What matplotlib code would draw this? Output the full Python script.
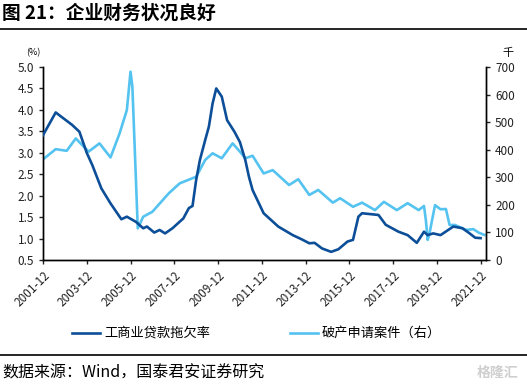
import numpy as np
import pandas as pd
import matplotlib
matplotlib.use("Agg")
import matplotlib.pyplot as plt
import matplotlib.dates as mdates
from matplotlib.lines import Line2D

plt.rcParams['font.family'] = ['Noto Sans CJK SC', 'DejaVu Sans']

# Commercial & industrial loan delinquency rate (%)
dark_dates = ["2001-12", "2002-07", "2003-04", "2003-08", "2003-12", "2004-03", "2004-08",
              "2005-01", "2005-07", "2005-10", "2006-03", "2006-07", "2006-09", "2007-01",
              "2007-04", "2007-07", "2007-11", "2008-05", "2008-08", "2008-10", "2008-12",
              "2009-02", "2009-05", "2009-07", "2009-09", "2009-11", "2010-02", "2010-05",
              "2010-09", "2010-12", "2011-03", "2011-05", "2011-07", "2012-01", "2012-09",
              "2013-05", "2013-10", "2014-02", "2014-05", "2014-09", "2015-02", "2015-06",
              "2015-11", "2016-02", "2016-05", "2016-07", "2017-04", "2017-08", "2018-03",
              "2018-08", "2019-01", "2019-05", "2019-07", "2019-10", "2020-02", "2020-09",
              "2021-02", "2021-06", "2021-09", "2021-12"]
dark_vals = [3.41, 3.94, 3.65, 3.49, 3.00, 2.72, 2.17,
             1.82, 1.45, 1.51, 1.39, 1.24, 1.28, 1.14,
             1.20, 1.12, 1.24, 1.47, 1.71, 1.76, 2.37,
             2.83, 3.30, 3.61, 4.15, 4.50, 4.31, 3.76,
             3.49, 3.25, 2.83, 2.44, 2.13, 1.59, 1.28,
             1.08, 0.98, 0.89, 0.90, 0.77, 0.69, 0.75,
             0.93, 0.97, 1.51, 1.59, 1.55, 1.32, 1.16,
             1.08, 0.90, 1.16, 1.08, 1.12, 1.08, 1.28,
             1.24, 1.12, 1.02, 1.01]

# Bankruptcy filings (thousand, right axis)
light_dates = ["2001-12", "2002-07", "2003-01", "2003-06", "2004-01", "2004-07", "2005-01",
               "2005-06", "2005-10", "2005-12", "2006-01", "2006-04", "2006-07", "2006-12",
               "2007-09", "2008-03", "2008-12", "2009-05", "2009-09", "2010-02", "2010-08",
               "2010-12", "2011-03", "2011-07", "2012-01", "2012-06", "2013-03", "2013-08",
               "2014-02", "2014-07", "2015-03", "2015-07", "2016-02", "2016-07", "2017-02",
               "2017-07", "2018-02", "2018-08", "2019-02", "2019-05", "2019-06", "2019-07",
               "2019-08", "2019-11", "2020-02", "2020-05", "2020-07", "2020-10", "2021-04",
               "2021-08", "2021-11", "2022-02"]
light_vals = [365, 402, 396, 441, 393, 423, 372,
              459, 544, 683, 629, 115, 157, 175,
              242, 278, 302, 363, 387, 369, 423,
              393, 369, 378, 314, 326, 272, 293,
              236, 254, 208, 224, 193, 208, 181,
              211, 181, 206, 181, 196, 145, 73,
              97, 199, 184, 185, 127, 127, 109,
              112, 99, 91]

tick_dates = ["2001-12", "2003-12", "2005-12", "2007-12", "2009-12", "2011-12",
              "2013-12", "2015-12", "2017-12", "2019-12", "2021-12"]
left_ticks = [0.5, 1.0, 1.5, 2.0, 2.5, 3.0, 3.5, 4.0, 4.5, 5.0]
right_ticks = [0, 100, 200, 300, 400, 500, 600, 700]

dark_c = '#0c4f98'
light_c = '#55c3f0'

fig = plt.figure(figsize=(5.27, 3.88), dpi=100)
ax = fig.add_axes([43/527, 1-260/388, (486-43)/527, (260-67)/388])
ax2 = ax.twinx()

ax.plot(pd.to_datetime(dark_dates), dark_vals, color=dark_c, lw=1.9, zorder=3)
ax2.plot(pd.to_datetime(light_dates), light_vals, color=light_c, lw=1.9)
ax.set_zorder(ax2.get_zorder() + 1)
ax.patch.set_visible(False)

ax.set_xlim(pd.Timestamp("2001-12-01"), pd.Timestamp("2022-03-01"))
ax.set_ylim(0.5, 5.0)
ax2.set_ylim(0, 700)

ax.set_xticks(pd.to_datetime(tick_dates))
ax.xaxis.set_major_formatter(mdates.DateFormatter('%Y-%m'))
ax.set_yticks(left_ticks)
ax.set_yticklabels([f"{v:.1f}" for v in left_ticks])
ax2.set_yticks(right_ticks)

for a in (ax, ax2):
    a.spines['top'].set_visible(False)
    for s in a.spines.values():
        s.set_linewidth(1.0)
ax.tick_params(axis='both', direction='out', length=3, width=1.0, labelsize=8.5, colors='#222222')
ax2.tick_params(axis='y', direction='out', length=3, width=1.0, labelsize=8.5, colors='#222222')
plt.setp(ax.get_xticklabels(), rotation=45, ha='right', rotation_mode='anchor')

fig.text(33/527, 1-53/388, "(%)", fontsize=6.5, ha='center', va='center')
fig.text(508/527, 1-53/388, "千", fontsize=8, ha='center', va='center')

# title and rules
fig.text(2/527, 1-13/388, "图 21：企业财务状况良好", fontsize=13.5, fontweight='bold', va='center', ha='left')
fig.add_artist(Line2D([0, 1], [1-29/388, 1-29/388], color='black', lw=1.2))
fig.add_artist(Line2D([0, 1], [1-355/388, 1-355/388], color='black', lw=1.2))

# legend
fig.add_artist(Line2D([72/527, 100/527], [1-333/388, 1-333/388], color=dark_c, lw=1.9))
fig.text(104/527, 1-333/388, "工商业贷款拖欠率", fontsize=9.5, va='center', ha='left')
fig.add_artist(Line2D([290/527, 318/527], [1-333/388, 1-333/388], color=light_c, lw=1.9))
fig.text(322/527, 1-333/388, "破产申请案件（右）", fontsize=9.5, va='center', ha='left')

fig.text(2/527, 1-373/388, "数据来源：Wind，国泰君安证券研究", fontsize=11.5, va='center', ha='left')
fig.text(518/527, 1-373/388, "格隆汇", fontsize=10, va='center', ha='right', color='#cfcfcf', fontweight='bold')

fig.savefig("out.png", dpi=100)
